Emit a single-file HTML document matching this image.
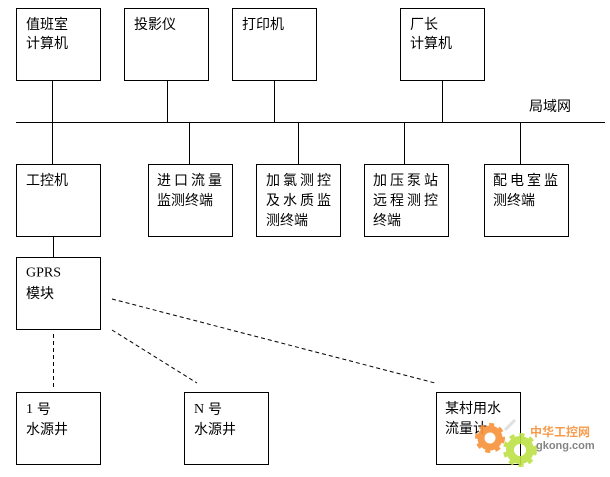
<!DOCTYPE html>
<html>
<head>
<meta charset="utf-8">
<style>
html,body{margin:0;padding:0;background:#fff;}
svg{display:block;}
text{font-family:"Liberation Sans","Noto Sans CJK SC",sans-serif;font-size:14px;fill:#000;dominant-baseline:central;}
.sp{letter-spacing:3px;}
.serif{font-family:"Liberation Serif","Noto Serif CJK SC",serif;}
</style>
</head>
<body>
<svg width="610" height="477" viewBox="0 0 610 477" xmlns="http://www.w3.org/2000/svg">
<g fill="none" stroke="#000" stroke-width="1">
  <!-- top row -->
  <rect x="16.5" y="8.5" width="84" height="72"/>
  <rect x="124.5" y="8.5" width="84" height="72"/>
  <rect x="232.5" y="8.5" width="84" height="72"/>
  <rect x="400.5" y="8.5" width="84" height="72"/>
  <line x1="52.5" y1="80" x2="52.5" y2="164"/>
  <line x1="167.5" y1="80" x2="167.5" y2="122"/>
  <line x1="274.5" y1="80" x2="274.5" y2="122"/>
  <line x1="442.5" y1="80" x2="442.5" y2="122"/>
  <!-- LAN -->
  <line x1="16" y1="122.5" x2="605" y2="122.5"/>
  <line x1="189.5" y1="122" x2="189.5" y2="164"/>
  <line x1="298.5" y1="122" x2="298.5" y2="164"/>
  <line x1="404.5" y1="122" x2="404.5" y2="164"/>
  <line x1="520.5" y1="122" x2="520.5" y2="164"/>
  <!-- second row -->
  <rect x="16.5" y="164.5" width="84" height="72"/>
  <rect x="148.5" y="164.5" width="84" height="72"/>
  <rect x="256.5" y="164.5" width="84" height="72"/>
  <rect x="364.5" y="164.5" width="84" height="72"/>
  <rect x="484.5" y="164.5" width="84" height="72"/>
  <line x1="53.5" y1="237" x2="53.5" y2="257"/>
  <!-- GPRS -->
  <rect x="16.5" y="257.5" width="84" height="72"/>
  <!-- bottom -->
  <rect x="16.5" y="392.5" width="84" height="72"/>
  <rect x="184.5" y="392.5" width="84" height="72"/>
  <rect x="436.5" y="392.5" width="84" height="72"/>
  <g stroke-dasharray="4,3">
    <line x1="53.5" y1="334" x2="53.5" y2="387"/>
    <line x1="112" y1="330" x2="197" y2="383"/>
    <line x1="112" y1="299" x2="435" y2="383"/>
  </g>
</g>

<text x="26" y="24">值班室</text>
<text x="26" y="43">计算机</text>
<text x="134" y="24">投影仪</text>
<text x="242" y="24">打印机</text>
<text x="410" y="24">厂长</text>
<text x="410" y="43">计算机</text>
<text x="529" y="106">局域网</text>

<text x="26" y="180">工控机</text>
<text x="157" y="180" class="sp">进口流量</text>
<text x="157" y="200">监测终端</text>
<text x="266" y="180" class="sp">加氯测控</text>
<text x="266" y="200" class="sp">及水质监</text>
<text x="266" y="220">测终端</text>
<text x="373" y="180" class="sp">加压泵站</text>
<text x="373" y="200" class="sp">远程测控</text>
<text x="373" y="220">终端</text>
<text x="493" y="180" class="sp">配电室监</text>
<text x="493" y="200">测终端</text>

<text x="26" y="273" class="serif" style="font-size:14px">GPRS</text>
<text x="26" y="293">模块</text>
<text x="26" y="409"><tspan class="serif">1</tspan> 号</text>
<text x="26" y="429">水源井</text>
<text x="194" y="409"><tspan class="serif">N</tspan> 号</text>
<text x="194" y="429">水源井</text>
<text x="445" y="408">某村用水</text>
<text x="445" y="428">流量计</text>

<!-- watermark -->
<g opacity="0.9">
  <line x1="505" y1="430" x2="515" y2="420" stroke="#ddd" stroke-width="3"/>
  <circle cx="490" cy="438" r="9" fill="none" stroke="#f7923a" stroke-width="7"/>
  <circle cx="490" cy="438" r="13" fill="none" stroke="#f7923a" stroke-width="4" stroke-dasharray="5,5"/>
  <circle cx="520" cy="450" r="10" fill="none" stroke="#bde046" stroke-width="8"/>
  <circle cx="520" cy="450" r="15" fill="none" stroke="#bde046" stroke-width="4" stroke-dasharray="5,5"/>
  <text x="530" y="432" style="font-size:12px;font-weight:bold;fill:#f7923a">中华工控网</text>
  <text x="536" y="446" style="font-size:11px;font-weight:bold;fill:#777">gkong.com</text>
</g>
</svg>
</body>
</html>
